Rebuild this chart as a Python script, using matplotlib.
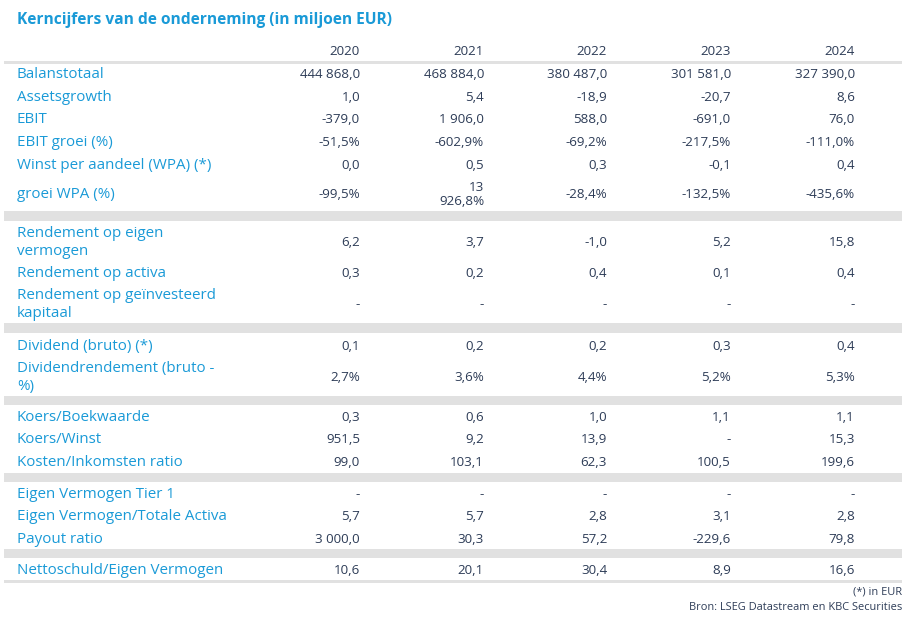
import matplotlib
matplotlib.use("Agg")
import matplotlib.pyplot as plt

title = "Kerncijfers van de onderneming (in miljoen EUR)"
years = ["2020", "2021", "2022", "2023", "2024"]

groups = [
    [
        ("Balanstotaal", ["444 868,0", "468 884,0", "380 487,0", "301 581,0", "327 390,0"]),
        ("Assetsgrowth", ["1,0", "5,4", "-18,9", "-20,7", "8,6"]),
        ("EBIT", ["-379,0", "1 906,0", "588,0", "-691,0", "76,0"]),
        ("EBIT groei (%)", ["-51,5%", "-602,9%", "-69,2%", "-217,5%", "-111,0%"]),
        ("Winst per aandeel (WPA) (*)", ["0,0", "0,5", "0,3", "-0,1", "0,4"]),
        ("groei WPA (%)", ["-99,5%", "13\n926,8%", "-28,4%", "-132,5%", "-435,6%"]),
    ],
    [
        ("Rendement op eigen\nvermogen", ["6,2", "3,7", "-1,0", "5,2", "15,8"]),
        ("Rendement op activa", ["0,3", "0,2", "0,4", "0,1", "0,4"]),
        ("Rendement op geïnvesteerd\nkapitaal", ["-", "-", "-", "-", "-"]),
    ],
    [
        ("Dividend (bruto) (*)", ["0,1", "0,2", "0,2", "0,3", "0,4"]),
        ("Dividendrendement (bruto -\n%)", ["2,7%", "3,6%", "4,4%", "5,2%", "5,3%"]),
    ],
    [
        ("Koers/Boekwaarde", ["0,3", "0,6", "1,0", "1,1", "1,1"]),
        ("Koers/Winst", ["951,5", "9,2", "13,9", "-", "15,3"]),
        ("Kosten/Inkomsten ratio", ["99,0", "103,1", "62,3", "100,5", "199,6"]),
    ],
    [
        ("Eigen Vermogen Tier 1", ["-", "-", "-", "-", "-"]),
        ("Eigen Vermogen/Totale Activa", ["5,7", "5,7", "2,8", "3,1", "2,8"]),
        ("Payout ratio", ["3 000,0", "30,3", "57,2", "-229,6", "79,8"]),
    ],
    [
        ("Nettoschuld/Eigen Vermogen", ["10,6", "20,1", "30,4", "8,9", "16,6"]),
    ],
]
footnote = "(*) in EUR"
source = "Bron: LSEG Datastream en KBC Securities"

# ---- layout (pixels) ----
W, H = 917, 623
col_right = [360, 484, 607, 731, 855]
label_x = 17
dy = 1.5
row_y = [
    [73, 96, 118, 141, 164, 193],
    [241, 272, 303],
    [345, 376],
    [416, 438, 461],
    [493, 515, 538],
    [569],
]
bands = [(210.5, 220.5), (323, 332.5), (395.5, 404.5), (472.5, 482), (548.5, 558)]
lines = [(61, 63.5), (580, 582.5)]

BLUE = "#1a9ad7"
NAVY = "#2d3c57"
GREY = "#e1e1e1"
FONT = "Open Sans"

fig = plt.figure(figsize=(W / 100, H / 100), dpi=100)
ax = fig.add_axes([0, 0, 1, 1])
ax.set_xlim(0, W)
ax.set_ylim(H, 0)
ax.axis("off")

for y0, y1 in bands + lines:
    ax.fill_between([4, 902], y0, y1, color=GREY, lw=0)

ax.text(label_x, 19 + dy, title, color=BLUE, fontsize=11.2, fontweight="bold",
        family=FONT, va="center", ha="left")

for x, yr in zip(col_right, years):
    ax.text(x, 50 + dy, yr, color=NAVY, fontsize=9.6, family=FONT, ha="right", va="center")

for g, ys in zip(groups, row_y):
    for (label, vals), y in zip(g, ys):
        ax.text(label_x, y + dy, label, color=BLUE, fontsize=10.9, family=FONT,
                ha="left", va="center", linespacing=1.2)
        for x, v in zip(col_right, vals):
            ax.text(x, y + dy, v, color=NAVY, fontsize=9.6, family=FONT,
                    ha="right", va="center", linespacing=1.1,
                    multialignment="right")

ax.text(902, 591 + dy, footnote, color=NAVY, fontsize=7.9, family=FONT, ha="right", va="center")
ax.text(902, 606 + dy, source, color=NAVY, fontsize=7.9, family=FONT, ha="right", va="center")

fig.savefig("out.png", dpi=100)
